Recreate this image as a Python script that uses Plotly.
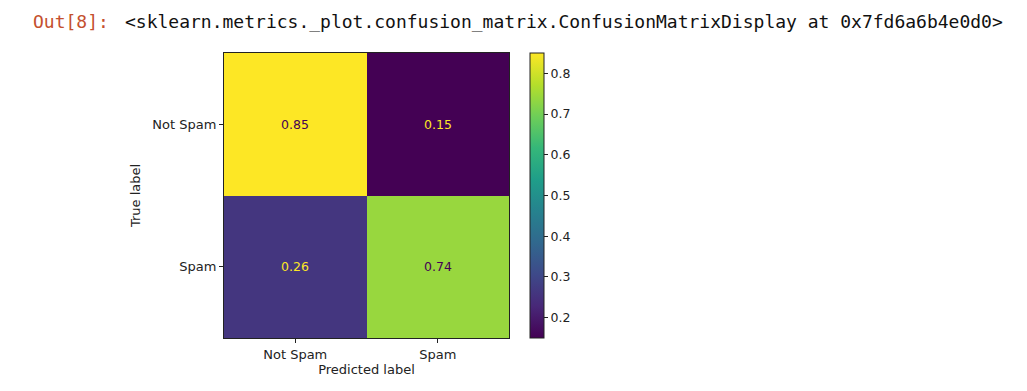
import plotly.graph_objects as go

pred_labels = ["Not Spam", "Spam"]
true_labels = ["Not Spam", "Spam"]
values = [[0.85, 0.15],
          [0.26, 0.74]]
cbar_ticks = [0.2, 0.3, 0.4, 0.5, 0.6, 0.7, 0.8]
prompt_text = "Out[8]:"
repr_text = "&lt;sklearn.metrics._plot.confusion_matrix.ConfusionMatrixDisplay at 0x7fd6a6b4e0d0&gt;"

W, H = 1027, 391
zmin = min(min(r) for r in values)
zmax = max(max(r) for r in values)

fig = go.Figure()
fig.add_trace(go.Heatmap(
    x=pred_labels, y=true_labels, z=values,
    colorscale="Viridis", zmin=zmin, zmax=zmax,
    hoverinfo="skip",
    colorbar=dict(
        x=530 / W, xanchor="left", y=0.5, yanchor="middle",
        xpad=0, ypad=0,
        len=285 / H, lenmode="fraction", thickness=14,
        outlinewidth=1, outlinecolor="#222",
        tickvals=cbar_ticks, ticks="outside", ticklen=4, tickcolor="#222",
        tickfont=dict(family="DejaVu Sans", size=12.5, color="#222"),
    ),
))

annotations = []
thresh = (zmin + zmax) / 2
for i, t in enumerate(true_labels):
    for j, p in enumerate(pred_labels):
        v = values[i][j]
        annotations.append(dict(
            x=p, y=t, xref="x", yref="y", text=f"{v:.2f}", showarrow=False,
            font=dict(family="DejaVu Sans", size=12.5,
                      color="#440154" if v > thresh else "#fde725"),
        ))

annotations.append(dict(x=31 / W, y=1 - 21 / H, xref="paper", yref="paper",
                        xanchor="left", yanchor="middle", showarrow=False,
                        text=prompt_text,
                        font=dict(family="DejaVu Sans Mono", size=18, color="#C4502E")))
annotations.append(dict(x=123 / W, y=1 - 21 / H, xref="paper", yref="paper",
                        xanchor="left", yanchor="middle", showarrow=False,
                        text=repr_text,
                        font=dict(family="DejaVu Sans Mono", size=18, color="#111")))

fig.update_layout(
    width=W, height=H, autosize=False,
    margin=dict(l=0, r=0, t=0, b=0),
    paper_bgcolor="white", plot_bgcolor="white",
    annotations=annotations,
    xaxis=dict(domain=[224 / W, 509 / W], showgrid=False, zeroline=False,
               showline=True, linecolor="#222", linewidth=1, mirror=True,
               ticks="outside", ticklen=4, tickcolor="#222",
               tickfont=dict(family="DejaVu Sans", size=13, color="#222"),
               title=dict(text="Predicted label", standoff=4,
                          font=dict(family="DejaVu Sans", size=13, color="#222"))),
    yaxis=dict(domain=[1 - 338 / H, 1 - 53 / H], autorange="reversed",
               showgrid=False, zeroline=False,
               showline=True, linecolor="#222", linewidth=1, mirror=True,
               ticks="outside", ticklen=4, tickcolor="#222",
               tickfont=dict(family="DejaVu Sans", size=13, color="#222"),
               title=dict(text="True label", standoff=8,
                          font=dict(family="DejaVu Sans", size=13, color="#222"))),
)

fig.write_html("out.html")
